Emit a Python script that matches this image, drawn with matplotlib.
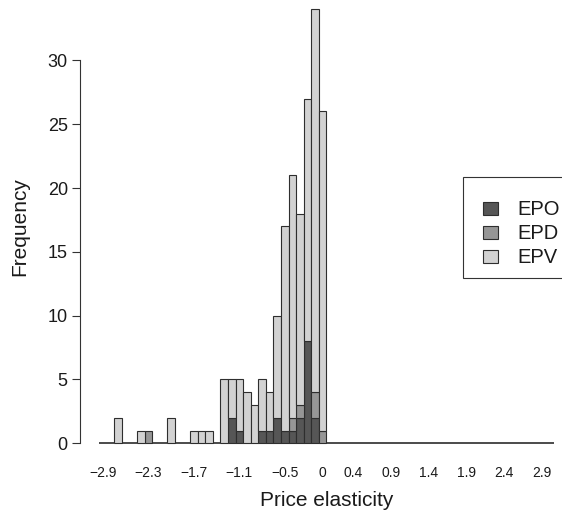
import matplotlib
matplotlib.use("Agg")
import matplotlib.pyplot as plt
import numpy as np
from matplotlib.patches import Rectangle

# ---- data ----
all_bins = [round(-2.9 + 0.1 * i, 1) for i in range(60)]   # category bins -2.9 .. 3.0
occupied = [-2.7, -2.4, -2.3, -2.0, -1.7, -1.6, -1.5, -1.3, -1.2, -1.1, -1.0,
            -0.9, -0.8, -0.7, -0.6, -0.5, -0.4, -0.3, -0.2, -0.1, 0.0]
epo = [0, 0, 0, 0, 0, 0, 0, 0, 2, 1, 0, 0, 1, 1, 2, 1, 1, 2, 8, 2, 0]
epd = [0, 0, 1, 0, 0, 0, 0, 0, 0, 0, 0, 0, 0, 0, 0, 0, 1, 1, 0, 2, 1]
epv = [2, 1, 0, 2, 1, 1, 1, 5, 3, 4, 4, 3, 4, 3, 8, 16, 19, 15, 19, 30, 25]
shown_labels = ["\u22122.9", "\u22122.3", "\u22121.7", "\u22121.1", "\u22120.5",
                "0", "0.4", "0.9", "1.4", "1.9", "2.4", "2.9"]
shown_values = [-2.9, -2.3, -1.7, -1.1, -0.5, 0.0, 0.4, 0.9, 1.4, 1.9, 2.4, 2.9]
yticks = [0, 5, 10, 15, 20, 25, 30]

series_names = ["EPO", "EPD", "EPV"]
colors = ["#565656", "#969696", "#d2d2d2"]
edge = "#2e2e2e"

plt.rcParams['font.family'] = ['Liberation Sans', 'DejaVu Sans']

W, H = 562, 518
fig = plt.figure(figsize=(W / 100, H / 100), dpi=100)

px_bin = 7.57
x0_px = 99.3
ax_left_px, ax_right_px = 80, 562
ax_bot_px, ax_top_px = 443.3, 9.3
ax = fig.add_axes([ax_left_px / W, 1 - ax_bot_px / H,
                   (ax_right_px - ax_left_px) / W, (ax_bot_px - ax_top_px) / H])
ax.set_xlim((ax_left_px - x0_px) / px_bin, (ax_right_px - x0_px) / px_bin)
ax.set_ylim(0, 34)


def idx(v):
    return int(round((v + 2.9) / 0.1))


full = {name: np.zeros(len(all_bins)) for name in series_names}
for k, v in enumerate(occupied):
    i = idx(v)
    full["EPO"][i] = epo[k]
    full["EPD"][i] = epd[k]
    full["EPV"][i] = epv[k]

xpos = np.array([idx(v) + 0.5 for v in all_bins])
bottom = np.zeros(len(all_bins))
for name, col in zip(series_names, colors):
    h = full[name]
    mask = h > 0
    ax.bar(xpos[mask], h[mask], width=1.0, bottom=bottom[mask], color=col,
           edgecolor=edge, linewidth=0.8, clip_on=False, zorder=3)
    bottom = bottom + h

zero = bottom == 0
ax.bar(xpos[zero], np.zeros(zero.sum()), width=1.0, color=colors[2],
       edgecolor="#1a1a1a", linewidth=1.1, clip_on=False, zorder=2)

for s in ["top", "right", "bottom"]:
    ax.spines[s].set_visible(False)
ax.spines["left"].set_bounds(0, 30)
ax.spines["left"].set_color("#333333")
ax.spines["left"].set_linewidth(0.8)
ax.set_yticks(yticks)
ax.set_yticklabels([str(t) for t in yticks], fontsize=13, color="#1a1a1a")
ax.tick_params(axis="y", length=5.8, width=0.8, color="#333333", pad=3)

ax.set_xticks([idx(v) + 0.5 for v in shown_values])
ax.set_xticklabels(shown_labels, fontsize=10, color="#1a1a1a")
ax.tick_params(axis="x", length=0, pad=16)

fig.text(327 / W, 1 - 501 / H, "Price elasticity", ha="center", va="center",
         fontsize=15, color="#1a1a1a")
fig.text(20 / W, 1 - 227 / H, "Frequency", ha="center", va="center",
         rotation=90, fontsize=15, color="#1a1a1a")

# ---- legend (drawn in figure pixel space) ----
def fx(px):
    return px / W


def fy(py):
    return 1 - py / H


fig.patches.append(Rectangle((fx(463), fy(278)), fx(120), (278 - 177) / H,
                             transform=fig.transFigure, facecolor="white",
                             edgecolor="#333333", linewidth=0.8, zorder=5))
leg_fs = 14.5
leg_fs_px = leg_fs * 100 / 72
row_y = [208, 232, 256]
for name, col, yc in zip(series_names, colors, row_y):
    fig.patches.append(Rectangle((fx(483), fy(yc + 6.5)), fx(15), 13 / H,
                                 transform=fig.transFigure, facecolor=col,
                                 edgecolor=edge, linewidth=0.8, zorder=6))
    fig.text(fx(517), fy(yc + 0.358 * leg_fs_px), name, ha="left", va="baseline",
             fontsize=leg_fs, color="#1a1a1a", zorder=7)

fig.savefig("out.png", dpi=100)
